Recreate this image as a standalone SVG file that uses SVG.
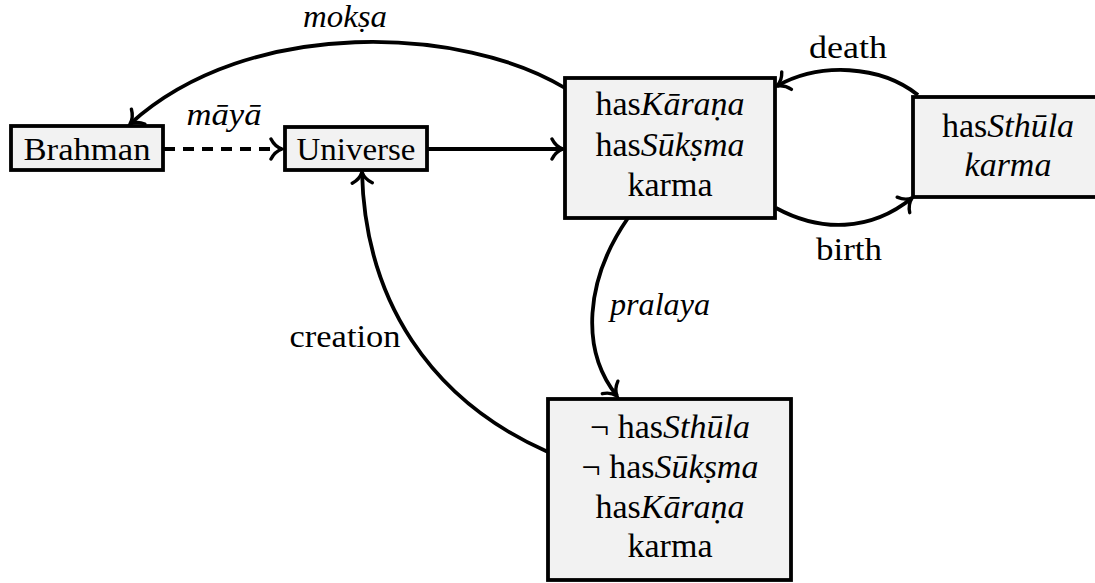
<svg xmlns="http://www.w3.org/2000/svg" width="1095" height="583" viewBox="0 0 1095 583">
<style>
.box{fill:#f2f2f2;stroke:#000;stroke-width:3.8}
.t{font-family:"Liberation Serif","Times New Roman",serif;font-size:32px;fill:#000;text-anchor:middle}
.b{font-size:34px}
.i{font-style:italic}
.e{fill:none;stroke:#000;stroke-width:3.8}
</style>
<defs>
<marker id="arr" viewBox="-15 -13 19 26" markerWidth="19" markerHeight="26" refX="0" refY="0" orient="auto" markerUnits="userSpaceOnUse">
<path d="M -11 -10 C -8 -4, -3 -1, 0 0 C -3 1, -8 4, -11 10" fill="none" stroke="#000" stroke-width="3.4" stroke-linecap="round"/>
</marker>
</defs>
<rect width="1095" height="583" fill="#fff"/>
<g id="connectors">
<path class="e" d="M 565 88 C 465 27, 250 15, 130 124" marker-end="url(#arr)"/>
<path class="e" d="M 164 149 L 282 149" stroke-dasharray="11 8" marker-end="url(#arr)"/>
<path class="e" d="M 427 149 L 563 149" marker-end="url(#arr)"/>
<path class="e" d="M 918 95 C 880 65, 820 62, 777 86" marker-end="url(#arr)"/>
<path class="e" d="M 776 208 C 820 232, 870 232, 912 198" marker-end="url(#arr)"/>
<path class="e" d="M 628 218 C 585 280, 580 350, 617 396" marker-end="url(#arr)"/>
<path class="e" d="M 548 452 C 430 400, 365 300, 362 172" marker-end="url(#arr)"/>
<text class="t i" x="345" y="27" font-size="30" textLength="84" lengthAdjust="spacingAndGlyphs">mokṣa</text>
<text class="t i" x="224" y="125" textLength="75" lengthAdjust="spacingAndGlyphs">māyā</text>
<text class="t" x="848" y="58" textLength="78" lengthAdjust="spacingAndGlyphs">death</text>
<text class="t" x="849" y="260" textLength="66" lengthAdjust="spacingAndGlyphs">birth</text>
<text class="t i" x="660" y="315" textLength="100" lengthAdjust="spacingAndGlyphs">pralaya</text>
<text class="t" x="345" y="347" textLength="111" lengthAdjust="spacingAndGlyphs">creation</text>
</g>
<g id="brahman">
<rect class="box" x="11" y="126" width="152" height="44"/>
<text class="t" x="87" y="160" textLength="127" lengthAdjust="spacingAndGlyphs">Brahman</text>
</g>
<g id="universe">
<rect class="box" x="285" y="127" width="142" height="43"/>
<text class="t" x="356" y="160" textLength="119" lengthAdjust="spacingAndGlyphs">Universe</text>
</g>
<g id="subtle">
<rect class="box" x="565" y="78" width="210" height="140"/>
<text class="t b" x="670" y="115">has<tspan class="i">Kāraṇa</tspan></text>
<text class="t b" x="670" y="156">has<tspan class="i">Sūkṣma</tspan></text>
<text class="t b" x="670" y="196">karma</text>
</g>
<g id="gross">
<rect class="box" x="913" y="97" width="200" height="100"/>
<text class="t b" x="1008" y="137">has<tspan class="i">Sthūla</tspan></text>
<text class="t b i" x="1008" y="176">karma</text>
</g>
<g id="causal">
<rect class="box" x="548" y="399" width="243" height="181"/>
<text class="t b" x="670" y="438">¬ has<tspan class="i">Sthūla</tspan></text>
<text class="t b" x="670" y="478">¬ has<tspan class="i">Sūkṣma</tspan></text>
<text class="t b" x="670" y="518">has<tspan class="i">Kāraṇa</tspan></text>
<text class="t b" x="670" y="557">karma</text>
</g>
</svg>
